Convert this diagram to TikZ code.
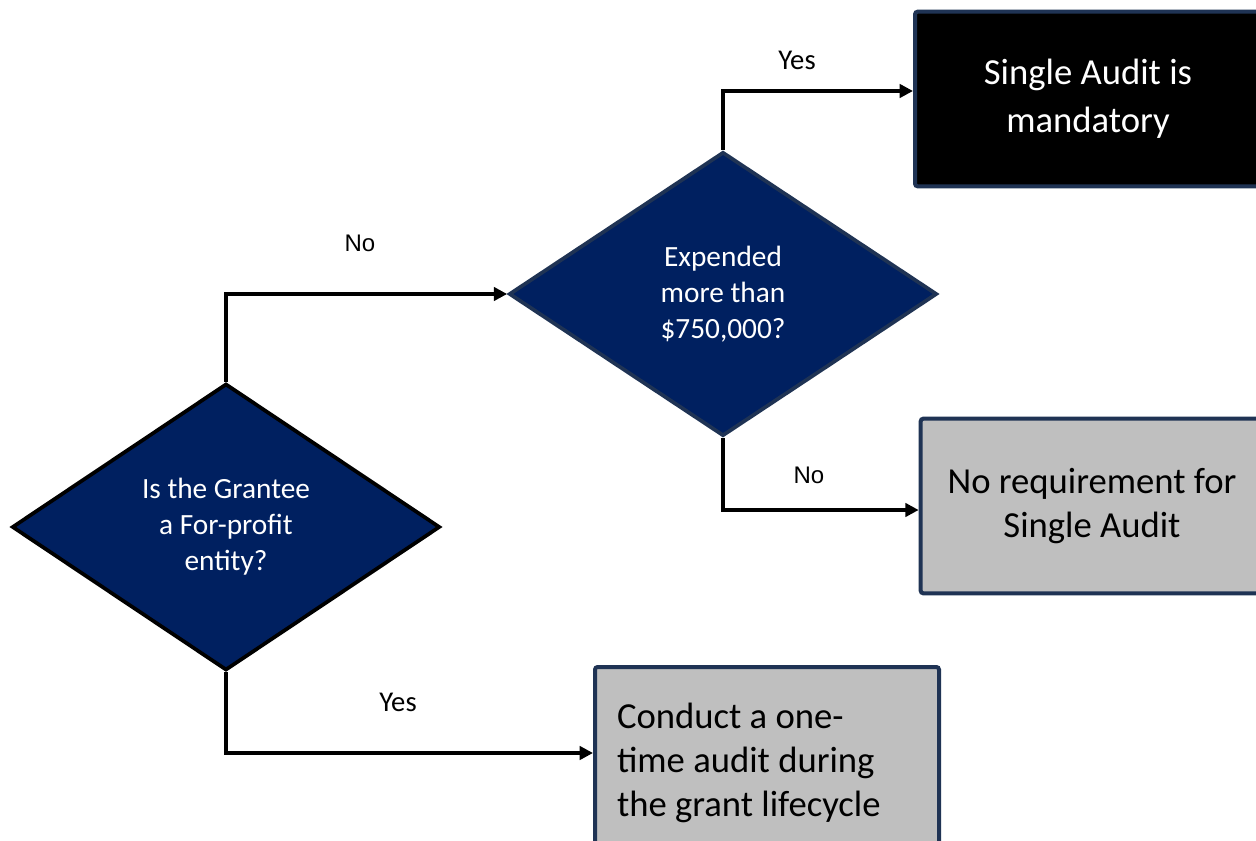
\documentclass[tikz,border=0pt]{standalone}
\usepackage{fontspec}
\setmainfont{Carlito}
\newfontfamily\arialf{Liberation Sans}
\usetikzlibrary{shapes.geometric,arrows.meta}
\definecolor{navy}{HTML}{002060}
\definecolor{edgeblue}{HTML}{1F3354}
\definecolor{boxgray}{HTML}{BFBFBF}
\begin{document}
\begin{tikzpicture}[x=0.75pt,y=-0.75pt,
  decision/.style={diamond, aspect=1.5, fill=navy, text=white, inner sep=0pt, align=center, font=\fontsize{22}{27}\selectfont, line width=2.8pt},
  outbox/.style={rectangle, rounded corners=2pt, line width=3pt, draw=edgeblue, align=center, inner sep=0pt},
  conn/.style={line width=2.6pt, -{Triangle[length=10pt,width=10pt]}},
  lblyes/.style={font=\fontsize{21.5}{25}\selectfont, inner sep=0pt},
  lblno/.style={font=\arialf\fontsize{18}{22}\selectfont, inner sep=0pt}]
\useasboundingbox (0,0) rectangle (1256,841);
\clip (0,0) rectangle (1256,841);
\fill[white] (0,0) rectangle (1256,841);

\node[decision, draw=black, minimum width=321pt, minimum height=215pt] (d1) at (226,527) {Is the Grantee\\a For-profit\\entity?};
\node[decision, draw=edgeblue, minimum width=321pt, minimum height=213pt] (d2) at (723,294) {Expended\\more than\\\$750,000?};

\node[outbox, fill=black, text=white, minimum width=259.5pt, minimum height=131pt, font=\fontsize{27.5}{36}\selectfont] (b1) at (1088,99) {Single Audit is\\mandatory};
\node[outbox, fill=boxgray, text=black, minimum width=257pt, minimum height=131pt, font=\fontsize{27.5}{33}\selectfont] (b2) at (1092,506) {No requirement for\\Single Audit};
\node[outbox, fill=boxgray, text=black, minimum width=258pt, minimum height=144pt, text width=225pt, align=flush left, font=\fontsize{27.5}{33}\selectfont] (b3) at (767,763) {Conduct a one-\\time audit during\\the grant lifecycle};

\draw[conn] (d1.north) |- (d2.west);
\draw[conn] (d2.north) |- ([yshift=6pt]b1.west);
\draw[conn] (d2.south) |- ([yshift=-3pt]b2.west);
\draw[conn] (d1.south) |- ([yshift=7.5pt]b3.west);

\node[lblno] (n1) at (360,243) {No};
\node[lblyes] (y1) at (797,60) {Yes};
\node[lblno] (n2) at (809,475) {No};
\node[lblyes] (y2) at (398,702) {Yes};
\end{tikzpicture}
\end{document}
